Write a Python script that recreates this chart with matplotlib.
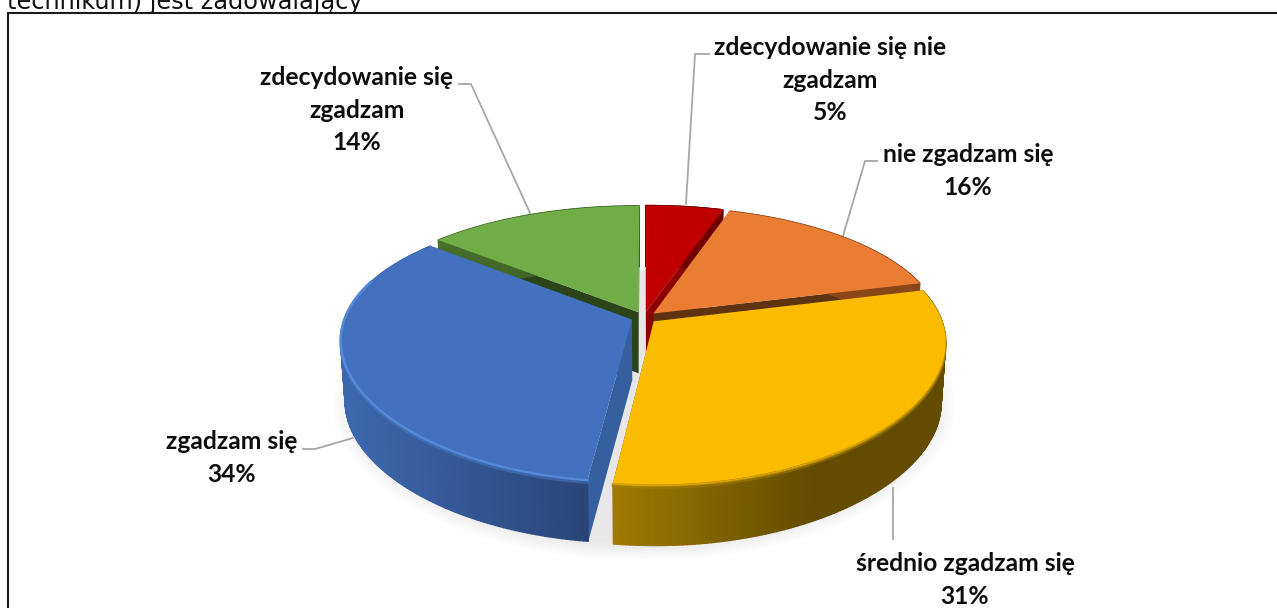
import numpy as np
import matplotlib
matplotlib.use("Agg")
import matplotlib.pyplot as plt

# slices, clockwise from 12 o'clock
categories = ['zdecydowanie się nie\nzgadzam', 'nie zgadzam się', 'średnio zgadzam się',
              'zgadzam się', 'zdecydowanie się\nzgadzam']
values = [5, 16, 31, 34, 14]
top_colors = ['#C00000', '#EB7D33', '#FBBC00', '#4371C0', '#70AD47']
wall_colors = ['#8E0000', '#5F3210', '#6A5000', '#355F9F', '#2B4419']
rim_left = ['#8E0000', '#A85820', '#A07A00', '#3C69AE', '#4F7A30']
rim_right = ['#700000', '#8A4518', '#634B00', '#2A4478', '#3C5E25']

# screen positions of the labels and their leader lines
label_x = [830, 968, 965, 232, 357]
label_y = [80, 171, 580, 458, 110]
leader_x = [[686, 695, 709], [843, 865, 877], [893, 893], [353, 315, 303], [530, 471, 459]]
leader_y = [[204, 54, 54], [236, 161, 161], [488, 539], [438, 449, 449], [213, 84, 84]]

# pie geometry in pixels
cx, cy = 644, 317.5
rx, ry = 287, 129.3
persp_x = 0.15
persp_y = 0.197
depth = 61
explode = 0.045


def project(u, v, z=0.0):
    x = cx + rx * u / (1 + persp_x * v)
    y = cy - ry * v / (1 + persp_y * v)
    return cx + (x - cx) * (1 - 0.015 * z), y + depth * z


fig = plt.figure(figsize=(12.77, 6.08), dpi=100)
ax = fig.add_axes([0, 0, 1, 1])
ax.set_xlim(0, 1277)
ax.set_ylim(608, 0)
ax.axis('off')

# title fragment and frame
ax.text(7, 8.5, 'technikum) jest zadowalający', fontsize=17.3, family='DejaVu Sans',
        color='#111111', ha='left', va='baseline')
ax.plot([8, 8, 1277], [608, 13, 13], color='#1a1a1a', lw=1.5, solid_joinstyle='miter')

# soft shadow under the pie
t = np.linspace(0, 2 * np.pi, 300)
for s in np.linspace(1.085, 1.0, 12):
    sx, sy = project(s * np.cos(t), s * np.sin(t) - 0.02, 1.0)
    ax.fill(sx, sy, color='black', alpha=0.009, lw=0, zorder=1)

for lx, ly in zip(leader_x, leader_y):
    ax.plot(lx, ly, color='#A6A6A6', lw=1.3, zorder=2)

# slice angles
fractions = np.array(values) / sum(values)
edges = 90 - 360 * np.concatenate([[0], np.cumsum(fractions)])

slices = {}
for i in range(len(values)):
    a0, a1 = np.radians(edges[i]), np.radians(edges[i + 1])
    mid = (a0 + a1) / 2
    slices[i] = (np.linspace(a0, a1, 160), explode * np.cos(mid), explode * np.sin(mid))

# back slices first, front ones over them
z = 3
for i in [4, 0, 1, 3, 2]:
    ang, du, dv = slices[i]
    u = np.cos(ang) + du
    v = np.sin(ang) + dv

    # cut walls on both sides of the slice
    for k in [0, -1]:
        wx, wy = project(np.array([du, u[k], u[k], du]), np.array([dv, v[k], v[k], dv]),
                         np.array([0, 0, 1, 1]))
        ax.fill(wx, wy, color=wall_colors[i], lw=0, zorder=z)

    # outer rim, a shade per step
    xt, yt = project(u, v, 0)
    xb, yb = project(u, v, 1)
    c0 = np.array(matplotlib.colors.to_rgb(rim_left[i]))
    c1 = np.array(matplotlib.colors.to_rgb(rim_right[i]))
    for j in range(len(u) - 1):
        if i == 2:
            f = np.clip((xt[j] - 614) / 200, 0, 1)
        else:
            f = np.clip((xt[j] - 345) / 245, 0, 1)
        col = c0 + (c1 - c0) * f
        ax.fill([xt[j], xt[j + 1], xb[j + 1], xb[j]], [yt[j], yt[j + 1], yb[j + 1], yb[j]],
                facecolor=col, edgecolor=col, lw=1.0, zorder=z)

    # top face
    px, py = project(np.r_[du, u], np.r_[dv, v], 0)
    ax.fill(px, py, color=top_colors[i], lw=0, zorder=z + 1)

    # bevel along the front rim
    front = v < 0.3
    if i == 3:
        ax.plot(xt[front], yt[front], color='#5488D8', lw=1.8, zorder=z + 1)
        xb2, yb2 = project(u[front], v[front], 0.04)
        ax.plot(xb2, yb2, color='#4C7CC8', lw=2, alpha=0.5, zorder=z)
    if i == 2:
        xb2, yb2 = project(u[front], v[front], 0.02)
        ax.plot(xb2, yb2, color='#D9A200', lw=1.6, zorder=z)
        xb2, yb2 = project(u[front], v[front], 0.05)
        ax.plot(xb2, yb2, color='#A07C00', lw=2.0, alpha=0.6, zorder=z)
    z += 2

# labels
for name, val, lx, ly in zip(categories, values, label_x, label_y):
    ax.text(lx, ly, f'{name}\n{val}%', fontsize=17.7, family='Lato', fontweight='bold',
            color='#0d0d0d', ha='center', va='center', linespacing=1.52, zorder=20)

fig.savefig('out.png', dpi=100)
